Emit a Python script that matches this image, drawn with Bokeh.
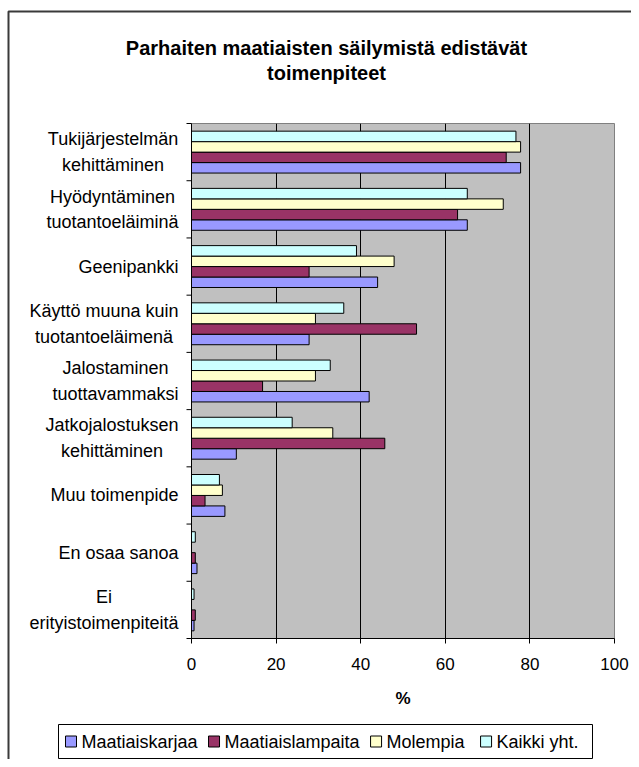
from bokeh.plotting import figure
from bokeh.models import Range1d, FixedTicker, ColumnDataSource
from bokeh.core.properties import value
from bokeh.embed import file_html
from bokeh.resources import INLINE

# ---------------- data ----------------
categories = [
    "Tukijärjestelmän\nkehittäminen",
    "Hyödyntäminen\ntuotantoeläiminä",
    "Geenipankki",
    "Käyttö muuna kuin\ntuotantoeläimenä",
    "Jalostaminen\ntuottavammaksi",
    "Jatkojalostuksen\nkehittäminen",
    "Muu toimenpide",
    "En osaa sanoa",
    "Ei\nerityistoimenpiteitä",
]
series_names = ["Maatiaiskarjaa", "Maatiaislampaita", "Molempia", "Kaikki yht."]
maatiaiskarjaa = [77.8, 65.2, 44.0, 27.8, 42.0, 10.6, 7.9, 1.3, 0.6]
maatiaislampaita = [74.4, 62.9, 27.8, 53.2, 16.8, 45.7, 3.2, 0.9, 0.9]
molempia = [77.8, 73.7, 47.9, 29.3, 29.3, 33.4, 7.3, 0.0, 0.0]
kaikki_yht = [76.7, 65.2, 39.0, 36.0, 32.8, 23.8, 6.6, 0.9, 0.6]
x_ticks = [0, 20, 40, 60, 80, 100]
title_lines = ["Parhaiten maatiaisten säilymistä edistävät", "toimenpiteet"]
x_label = "%"

series_values = [maatiaiskarjaa, maatiaislampaita, molempia, kaikki_yht]
colors = ["#9999FF", "#993366", "#FFFFCC", "#CCFFFF"]

# ---------------- layout (canvas px) ----------------
W, H = 631, 759
FL, FR, FT, FB = 191, 614, 123, 638
FONT = "Liberation Sans"
n = len(categories)
bh = 0.183

def xd(px):  # canvas px -> data x
    return (px - FL) / (FR - FL) * 100.0

def yd(py):  # canvas px -> data y
    return (FB - py) / (FB - FT) * n

p = figure(width=W, height=H, output_backend="svg", toolbar_location=None,
           x_range=Range1d(0, 100), y_range=Range1d(0, n),
           min_border_left=FL, min_border_right=W - FR,
           min_border_top=FT, min_border_bottom=H - FB)
p.background_fill_color = "#C0C0C0"
p.border_fill_color = "white"
p.outline_line_color = "#808080"
p.outline_line_width = 1

renderers = []
for k, (vals, col) in enumerate(zip(series_values, colors)):
    ys = [n - 1 - i + 0.5 + (k - 1.5) * bh for i in range(n)]
    src = ColumnDataSource(dict(y=ys, right=vals))
    r = p.hbar(y="y", left=0, right="right", height=bh, source=src,
               fill_color=col, line_color="black", line_width=1)
    renderers.append(r)

# x axis
p.xaxis.ticker = FixedTicker(ticks=x_ticks)
p.xaxis.major_tick_out = 5
p.xaxis.major_tick_in = 0
p.xaxis.minor_tick_line_color = None
p.xaxis.axis_line_color = "black"
p.xaxis.major_tick_line_color = "black"
p.xaxis.major_label_text_font = FONT
p.xaxis.major_label_text_font_size = "17px"
p.xaxis.major_label_text_color = "black"
p.xaxis.major_label_standoff = 14
p.xaxis.axis_label = x_label
p.xaxis.axis_label_text_font = FONT
p.xaxis.axis_label_text_font_size = "17px"
p.xaxis.axis_label_text_font_style = "bold"
p.xaxis.axis_label_text_color = "black"
p.xaxis.axis_label_standoff = 16

# y axis: only the line; category boundary ticks drawn below
p.yaxis.ticker = FixedTicker(ticks=[])
p.yaxis.minor_tick_line_color = None
p.yaxis.axis_line_color = "black"
p.segment(x0=[xd(FL - 5)] * (n + 1), x1=[0.0] * (n + 1),
          y0=list(range(n + 1)), y1=list(range(n + 1)),
          line_color="black", line_width=1, level="annotation")

p.xgrid.ticker = FixedTicker(ticks=[20, 40, 60, 80])
p.xgrid.grid_line_color = "black"
p.xgrid.grid_line_width = 1
p.ygrid.grid_line_color = None

# approximate Arial/Liberation Sans advance widths (1/1000 em)
CW = {' ': 278, 'a': 556, 'b': 556, 'c': 500, 'd': 556, 'e': 556, 'f': 278,
      'g': 556, 'h': 556, 'i': 222, 'j': 222, 'k': 500, 'l': 222, 'm': 833,
      'n': 556, 'o': 556, 'p': 556, 'q': 556, 'r': 333, 's': 500, 't': 278,
      'u': 556, 'v': 500, 'w': 722, 'x': 500, 'y': 500, 'z': 500, 'ä': 556,
      'ö': 556, 'T': 611, 'H': 722, 'G': 778, 'K': 667, 'J': 500, 'M': 833,
      'E': 667, '.': 278}

def text_w(s, size):
    return sum(CW.get(c, 556) for c in s) * size / 1000.0

TXT = 18
common = dict(text_font=value(FONT), text_color="black", level="annotation")

# category labels (block right edge at LABEL_RIGHT, lines centred in block)
LABEL_RIGHT = 178
label_src = ColumnDataSource(dict(
    x=[0.0] * n,
    y=[n - 1 - i + 0.5 for i in range(n)],
    text=categories,
    xo=[LABEL_RIGHT - max(text_w(l, TXT) for l in c.split("\n")) / 2 - FL for c in categories],
))
p.text(x="x", y="y", text="text", x_offset="xo", source=label_src,
       text_align="center", text_baseline="middle",
       text_font_size=value(f"{TXT}px"), text_line_height=1.28, **common)

# title
title_src = ColumnDataSource(dict(x=[0.0, 0.0], y=[float(n), float(n)], text=title_lines,
                                  xo=[326 - FL, 326 - FL], yo=[47 - FT, 72 - FT]))
p.text(x="x", y="y", text="text", x_offset="xo", y_offset="yo", source=title_src,
       text_align="center", text_baseline="middle",
       text_font_size=value("20px"), text_font_style="bold", **common)

# outer chart frame (left & top edges visible)
p.quad(left=[xd(8)], right=[xd(W + 40)], top=[yd(11)], bottom=[yd(H + 40)],
       fill_alpha=0, line_color="#3a3a3a", line_width=2, level="annotation")

# legend (drawn below the axis)
LG_L, LG_R, LG_T, LG_B = 58, 592, 724, 758
lg_cy = (LG_T + LG_B) / 2
p.quad(left=[xd(LG_L)], right=[xd(LG_R)], top=[yd(LG_T)], bottom=[yd(LG_B)],
       fill_color="white", line_color="black", line_width=1, level="annotation")
cur = LG_L + 7
sw_l, sw_r, tx_x = [], [], []
for nm in series_names:
    sw_l.append(cur)
    sw_r.append(cur + 11)
    tx_x.append(cur + 16)
    cur = cur + 16 + text_w(nm, TXT) + (16 if nm == "Molempia" else 11)
p.quad(left=[xd(v) for v in sw_l], right=[xd(v) for v in sw_r],
       top=[yd(lg_cy - 5.5)] * 4, bottom=[yd(lg_cy + 5.5)] * 4,
       fill_color=colors, line_color="black", line_width=1, level="annotation")
leg_src = ColumnDataSource(dict(x=[0.0] * 4, y=[0.0] * 4, text=series_names,
                                xo=[v - FL for v in tx_x], yo=[lg_cy - FB] * 4))
p.text(x="x", y="y", text="text", x_offset="xo", y_offset="yo", source=leg_src,
       text_align="left", text_baseline="middle",
       text_font_size=value(f"{TXT}px"), **common)

open("out.html", "w").write(file_html(p, INLINE))
